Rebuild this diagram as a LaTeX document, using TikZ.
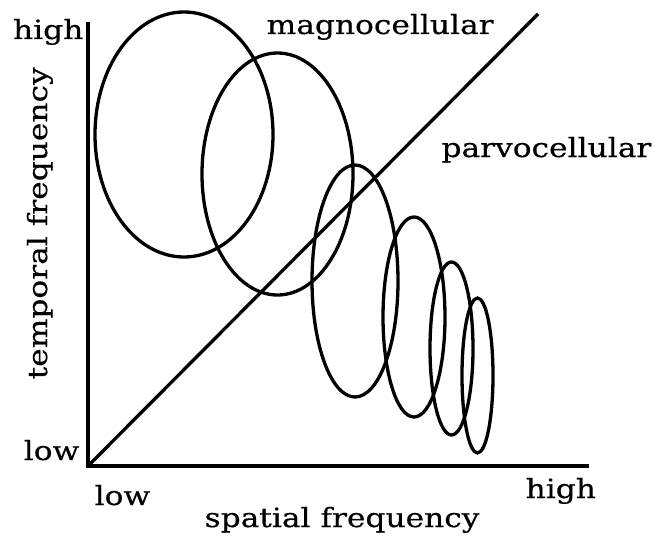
\documentclass[tikz,border=0pt]{standalone}
\usepackage{fontspec}
\setmainfont{DejaVu Serif}[FakeStretch=1.18, FakeBold=0.5]
\usetikzlibrary{calc}

\tikzset{
    lbl/.style={font=\fontsize{26.5}{30}\selectfont, inner sep=0pt}
}

\begin{document}
\begin{tikzpicture}[x=1pt, y=-1pt, line width=3.3pt]
    \useasboundingbox (0,0) rectangle (655,535);

    \coordinate (O) at (88, 466);
    \coordinate (T) at (88, 22);
    \coordinate (S) at (589, 466);
    \coordinate (D) at (538, 14);

    \draw (T) -- (O) -- (S);
    \draw (O) -- (D);

    \foreach \cx/\cy/\rx/\ry in {184/134.5/89/122.5, 277.5/174/75.5/121,
        355/281/43/116, 414/317/31/100, 451.5/348.5/21.5/86.5,
        477.5/375.5/15.5/77.5}
    \draw (\cx,\cy) ellipse [x radius=\rx, y radius=\ry];

    \node[lbl, anchor=base east] (yhigh) at (85, 39) {high};
    \node[lbl, anchor=base east] (ylow) at (81, 460) {low};
    \node[lbl, anchor=base west] (xlow) at (93, 505) {low};
    \node[lbl, anchor=base west] (xhigh) at (524, 498) {high};
    \node[lbl, anchor=base west] (xlab) at (203, 527) {spatial frequency};
    \node[lbl, anchor=base west, rotate=90] (ylab) at (47, 381) {temporal frequency};
    \node[lbl, anchor=base west] (magno) at (265, 34) {magnocellular};
    \node[lbl, anchor=base east] (parvo) at (653, 157) {parvocellular};
\end{tikzpicture}
\end{document}
